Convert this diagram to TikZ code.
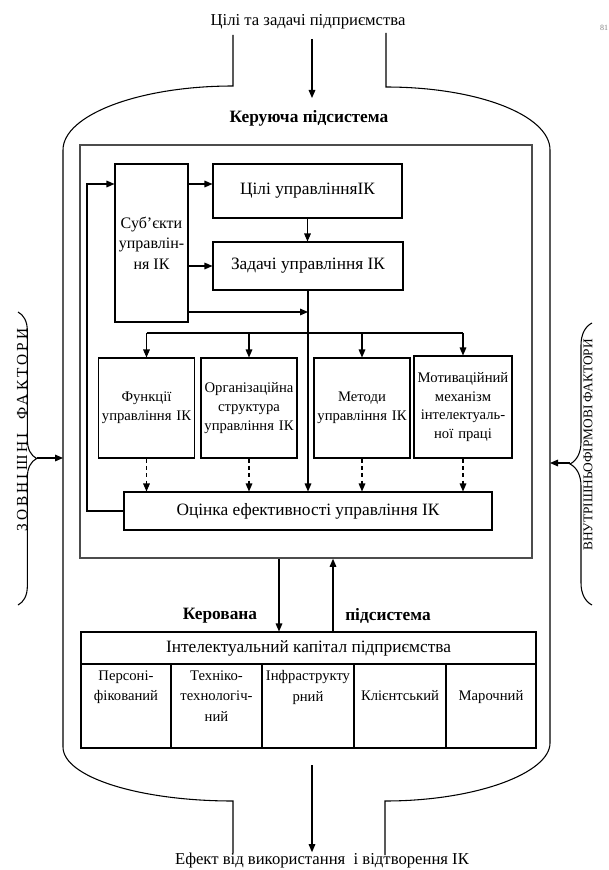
\documentclass[tikz,border=0pt]{standalone}
\usepackage{fontspec}
\setmainfont{Liberation Serif}
\usepackage{tikz}
\usetikzlibrary{shapes,arrows.meta,positioning,decorations.pathreplacing}
\tikzstyle{block} = [rectangle, draw, line width=0.8pt, inner sep=1pt, align=center, font=\fontsize{13}{15.5}\selectfont]
\tikzstyle{fbox} = [block, text width=70pt, minimum height=75pt, font=\fontsize{11}{14}\selectfont]
\tikzstyle{cell} = [rectangle, draw, line width=0.8pt, minimum height=63pt]
\tikzstyle{txt} = [inner sep=0pt, align=center, font=\fontsize{12.5}{15}\selectfont]
\tikzstyle{celltxt} = [inner sep=0pt, align=center, font=\fontsize{11}{15.5}\selectfont]
\tikzstyle{sidetxt} = [inner sep=0pt, rotate=90, font=\fontsize{10}{12}\selectfont]
\tikzstyle{line} = [draw, line width=0.8pt]
\tikzstyle{arrow} = [draw, line width=0.8pt, -{Triangle[length=6pt,width=5pt]}]
\tikzstyle{dasharrow} = [arrow, dash pattern=on 3pt off 2.5pt]
\tikzstyle{bracket} = [draw, line width=0.8pt, decorate]

\begin{document}
\begin{tikzpicture}[x=0.75pt, y=-0.75pt]
	\useasboundingbox (0,0) rectangle (609,870);

	% outer contour
	\path [line] (233,35) -- (233,86) .. controls (139,86) and (63,115) .. (63,150) -- (63,747)
		.. controls (63,777) and (139,801) .. (233,801) -- (233,853);
	\path [line] (386,33) -- (386,87) .. controls (477,87) and (550,115) .. (550,150) -- (550,743)
		.. controls (550,773) and (476,801) .. (385,801) -- (385,855);

	\node [txt] (goals) at (308,22) {Цілі та задачі підприємства};
	\node [txt, font=\fontsize{6}{7}\selectfont, text=gray] (page) at (604,28) {81};
	\node [txt, font=\bfseries\fontsize{13}{15}\selectfont] (title) at (309,118) {Керуюча підсистема};
	\coordinate (intop) at (312,98);

	% control subsystem
	\node [rectangle, draw=black!70, line width=1.2pt, minimum width=339pt, minimum height=309.75pt] (ctrl) at (306,351.5) {};
	\node [block, font=\fontsize{12}{15.5}\selectfont, minimum width=54.75pt, minimum height=118.5pt] (subj) at (151.5,243) {Суб’єкти\\управлін-\\ня ІК};
	\node [block, minimum width=141.75pt, minimum height=40.5pt] (aims) at (307.5,191) {Цілі управлінняІК};
	\node [block, minimum width=142.5pt, minimum height=36pt] (tasks) at (308,266) {Задачі управління ІК};
	\node [fbox] (f1) at (146.5,408) {Функції\\управління ІК};
	\node [fbox] (f2) at (249,408) {Організаційна\\структура\\управління ІК};
	\node [fbox] (f3) at (362,408) {Методи\\управління ІК};
	\node [fbox, text width=71.5pt, minimum height=76.5pt] (f4) at (463,407) {Мотиваційний\\механізм\\інтелектуаль-\\ної праці};
	\node [block, minimum width=276pt, minimum height=28.5pt] (eval) at (308,511) {Оцінка ефективності управління ІК};
	\coordinate (join) at (308,312);
	\coordinate (bus) at (308,333);
	\coordinate (back) at (87,184);

	\path [arrow] (subj.east |- back) -- (aims.west |- back);
	\path [arrow] (subj.east |- tasks.west) -- (tasks.west);
	\path [arrow] (aims.south) -- (aims.south |- tasks.north);
	\path [arrow] (tasks.south) -- (tasks.south |- eval.north);
	\path [arrow] (subj.east |- join) -- (join);
	\path [line] (f1.north |- bus) -- (f4.north |- bus);
	\path [arrow] (f1.north |- bus) -- (f1.north);
	\path [arrow] (f2.north |- bus) -- (f2.north);
	\path [arrow] (f3.north |- bus) -- (f3.north);
	\path [arrow] (f4.north |- bus) -- (f4.north);
	\path [dasharrow] (f1.south) -- (f1.south |- eval.north);
	\path [dasharrow] (f2.south) -- (f2.south |- eval.north);
	\path [dasharrow] (f3.south) -- (f3.south |- eval.north);
	\path [dasharrow] (f4.south) -- (f4.south |- eval.north);
	\path [arrow] (eval.west) -| (back) -- (subj.west |- back);

	% managed subsystem
	\node [block, minimum width=341.25pt, minimum height=24pt] (ic) at (308.5,648) {Інтелектуальний капітал підприємства};
	\node [cell, minimum width=67.5pt] (c1) at (126,706) {};
	\node [cell, minimum width=68.25pt] (c2) at (216.5,706) {};
	\node [cell, minimum width=69pt] (c3) at (308,706) {};
	\node [cell, minimum width=69pt] (c4) at (400,706) {};
	\node [cell, minimum width=67.5pt] (c5) at (491,706) {};
	\node [celltxt, below=5pt of c1.north] (t1) {Персоні-\\фікований};
	\node [celltxt, below=5pt of c2.north] (t2) {Техніко-\\технологіч-\\ний};
	\node [celltxt, below=5pt of c3.north] (t3) {Інфраструкту\\рний};
	\node [celltxt, below=20pt of c4.north] (t4) {Клієнтський};
	\node [celltxt, below=20pt of c5.north] (t5) {Марочний};
	\node [txt, font=\bfseries\fontsize{13}{15}\selectfont] (managed) at (220,616) {Керована};
	\node [txt, font=\bfseries\fontsize{13}{15}\selectfont] (sub) at (388,616) {підсистема};
	\path [arrow] ([xshift=-20.25pt]ctrl.south) -- ([xshift=-20.25pt]ctrl.south |- ic.north);
	\path [arrow] ([xshift=20.25pt]ctrl.south |- ic.north) -- ([xshift=20.25pt]ctrl.south);

	% result
	\node [txt] (effect) at (322,860) {Ефект від використання \ і відтворення ІК};
	\coordinate (outbot) at (312,765);
	\path [arrow] (outbot) -- (outbot |- effect.north);
	\path [arrow, shorten <=7pt] (goals.south -| intop) -- (intop);

	% factors
	\path [bracket, decoration={brace, amplitude=14pt}] (18,312) -- (18,605);
	\path [bracket, decoration={brace, amplitude=16.5pt}] (592,605) -- (592,323);
	\node [sidetxt, font=\fontsize{11.5}{13}\selectfont] (ext) at (22,430) {\addfontfeature{LetterSpace=20}ЗОВНІШНІ \ ФАКТОРИ};
	\node [sidetxt] (int) at (588,445) {ВНУТРІШНЬОФІРМОВІ ФАКТОРИ};
	\coordinate (lin) at (63,458);
	\coordinate (rin) at (550,463);
	\path [arrow] (37,458) -- (lin);
	\path [arrow] (570,463) -- (rin);
\end{tikzpicture}
\end{document}
